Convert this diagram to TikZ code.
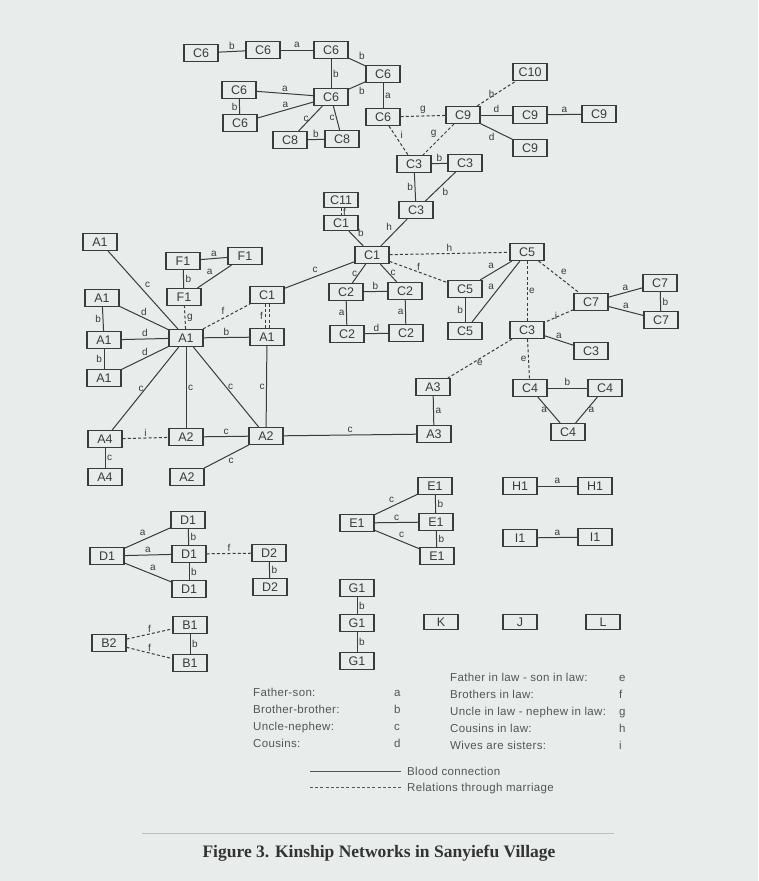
\documentclass[tikz,border=0pt]{standalone}
\usepackage{fontspec}
\setmainfont{Liberation Serif}
\setsansfont{Liberation Sans}
\definecolor{paper}{RGB}{232,236,234}
\definecolor{ink}{RGB}{58,60,60}
\definecolor{legink}{RGB}{85,87,87}
\tikzset{
  box/.style={draw=ink, line width=1.1pt, minimum width=34pt, minimum height=17pt, inner sep=1pt,
    font=\sffamily\fontsize{12.5}{12.5}\selectfont, text=ink},
  blood/.style={draw=ink, line width=1pt},
  marr/.style={draw=ink, line width=1pt, dash pattern=on 3pt off 2.2pt},
  lab/.style={font=\sffamily\fontsize{10}{10}\selectfont, text=ink, inner sep=1.5pt},
  legtxt/.style={font=\sffamily\fontsize{11.5}{11.5}\selectfont\addfontfeature{LetterSpace=3}, text=legink, anchor=base west, inner sep=0pt, yshift=-4pt},
}
\begin{document}
\begin{tikzpicture}[x=1pt,y=-1pt]
\path[fill=paper] (0,0) rectangle (758,881);
\useasboundingbox (0,0) rectangle (758,881);

% ---------- top C cluster ----------
\node[box] (c6a) at (201,53) {C6};
\node[box] (c6b) at (263,50) {C6};
\node[box] (c6c) at (331,50) {C6};
\node[box] (c6d) at (383,74) {C6};
\node[box] (c6e) at (331,97) {C6};
\node[box] (c6f) at (239,90) {C6};
\node[box] (c6g) at (240,123) {C6};
\node[box] (c8a) at (290,140) {C8};
\node[box] (c8b) at (342,139) {C8};
\node[box] (c6h) at (383,117) {C6};
\node[box] (c10) at (530,72) {C10};
\node[box] (c9) at (463,115) {C9};
\node[box] (c9b) at (530,115) {C9};
\node[box] (c9c) at (599,114) {C9};
\node[box] (c9d) at (530,148) {C9};
\node[box] (c3a) at (414,164) {C3};
\node[box] (c3b) at (465,163) {C3};
\node[box] (c3c) at (416,210) {C3};
\node[box, minimum height=15pt] (c11) at (341,200) {C11};
\node[box, minimum height=15pt] (c1s) at (341,223) {C1};

\draw[blood] (c6a) -- node[lab,above]{b} (c6b);
\draw[blood] (c6b) -- node[lab,above]{a} (c6c);
\draw[blood] (c6c) -- node[lab,above right]{b} (c6d);
\draw[blood] (c6c) -- node[lab,right]{b} (c6e);
\draw[blood] (c6e) -- node[lab,below right]{b} (c6d);
\draw[blood] (c6f) -- node[lab,above]{a} (c6e);
\draw[blood] (c6g) -- node[lab,above]{a} (c6e);
\draw[blood] (c6f) -- node[lab,left]{b} (c6g);
\draw[blood] (c6e) -- node[lab,left]{c} (c8a);
\draw[blood] (c6e) -- node[lab,left]{c} (c8b);
\draw[blood] (c8a) -- node[lab,above]{b} (c8b);
\draw[blood] (c6d) -- node[lab,right]{a} (c6h);
\draw[marr] (c6h) -- node[lab,above]{g} (c9);
\draw[marr] (c6h) -- node[lab,above right]{i} (c3a);
\draw[marr] (c9) -- node[lab,above left]{g} (c3a);
\draw[marr] (c9) -- node[lab,left]{h} (c10);
\draw[blood] (c9) -- node[lab,above]{d} (c9b);
\draw[blood] (c9b) -- node[lab,above]{a} (c9c);
\draw[blood] (c9) -- node[lab,below left]{d} (c9d);
\draw[blood] (c3a) -- node[lab,above]{b} (c3b);
\draw[blood] (c3a) -- node[lab,left]{b} (c3c);
\draw[blood] (c3b) -- node[lab,below right]{b} (c3c);
\draw[marr] (c11) -- node[lab,right]{f} (c1s);

% ---------- middle C cluster ----------
\node[box] (c1m) at (372,255) {C1};
\node[box] (c1l) at (267,295) {C1};
\node[box] (c2a) at (346,292) {C2};
\node[box] (c2b) at (405,291) {C2};
\node[box] (c2c) at (347,334) {C2};
\node[box] (c2d) at (406,333) {C2};
\node[box] (c5m) at (527,252) {C5};
\node[box] (c5a) at (465,289) {C5};
\node[box] (c5b) at (465,331) {C5};
\node[box] (c7) at (591,302) {C7};
\node[box] (c7a) at (660,283) {C7};
\node[box] (c7b) at (661,320) {C7};
\node[box] (c3m) at (527,330) {C3};
\node[box] (c3r) at (591,351) {C3};
\node[box] (c4a) at (530,388) {C4};
\node[box] (c4b) at (605,388) {C4};
\node[box] (c4c) at (568,432) {C4};
\node[box] (a3a) at (433,387) {A3};
\node[box] (a3b) at (434,434) {A3};

\draw[blood] (c3c) -- node[lab,above left]{h} (c1m);
\draw[blood] (c1s) -- node[lab,above right]{b} (c1m);
\draw[blood] (c1m) -- node[lab,above left]{c} (c1l);
\draw[blood] (c1m) -- node[lab,left]{c} (c2a);
\draw[blood] (c1m) -- node[lab,right]{c} (c2b);
\draw[blood] (c2a) -- node[lab,above]{b} (c2b);
\draw[blood] (c2a) -- node[lab,left]{a} (c2c);
\draw[blood] (c2b) -- node[lab,left]{a} (c2d);
\draw[blood] (c2c) -- node[lab,above]{d} (c2d);
\draw[marr] (c1m) -- node[lab,above]{h} (c5m);
\draw[marr] (c1m) -- node[lab,above]{f} (c5a);
\draw[blood] (c5m) -- node[lab,above left]{a} (c5a);
\draw[blood] (c5m) -- node[lab,above left]{a} (c5b);
\draw[blood] (c5a) -- node[lab,left]{b} (c5b);
\draw[marr] (c5m) -- node[lab,above right]{e} (c7);
\draw[marr] (c5m) -- node[lab,right]{e} (c3m);
\draw[marr] (c7) -- node[lab,left]{i} (c3m);
\draw[blood] (c7) -- node[lab,above]{a} (c7a);
\draw[blood] (c7) -- node[lab,above]{a} (c7b);
\draw[blood] (c7a) -- node[lab,right]{b} (c7b);
\draw[blood] (c3m) -- node[lab,above]{a} (c3r);
\draw[marr] (c3m) -- node[lab,below]{e} (a3a);
\draw[marr] (c3m) -- node[lab,left]{e} (c4a);
\draw[blood] (c4a) -- node[lab,above]{b} (c4b);
\draw[blood] (c4a) -- node[lab,left]{a} (c4c);
\draw[blood] (c4b) -- node[lab,right]{a} (c4c);
\draw[blood] (a3a) -- node[lab,right]{a} (a3b);

% ---------- A / F cluster ----------
\node[box] (a1t) at (100,242) {A1};
\node[box] (f1a) at (183,261) {F1};
\node[box] (f1b) at (245,256) {F1};
\node[box] (f1c) at (184,297) {F1};
\node[box] (a1l2) at (102,298) {A1};
\node[box] (a1l3) at (104,340) {A1};
\node[box] (a1l4) at (104,378) {A1};
\node[box] (a1c) at (186,338) {A1};
\node[box] (a1r) at (267,337) {A1};
\node[box] (a4a) at (105,439) {A4};
\node[box] (a2a) at (186,437) {A2};
\node[box] (a2b) at (266,436) {A2};
\node[box] (a4b) at (105,477) {A4};
\node[box] (a2c) at (187,477) {A2};

\draw[blood] (a1t) -- node[lab,above right]{c} (a1c);
\draw[blood] (a1l2) -- node[lab,above]{d} (a1c);
\draw[blood] (a1l2) -- node[lab,left]{b} (a1l3);
\draw[blood] (a1l3) -- node[lab,above]{d} (a1c);
\draw[blood] (a1l3) -- node[lab,left]{b} (a1l4);
\draw[blood] (a1l4) -- node[lab,above]{d} (a1c);
\draw[blood] (a1c) -- node[lab,left]{c} (a4a);
\draw[blood] (a1c) -- node[lab,right]{c} (a2a);
\draw[blood] (a1c) -- node[lab,right]{c} (a2b);
\draw[blood] (a1r) -- node[lab,left]{c} (a2b);
\draw[blood] (a1c) -- node[lab,above]{b} (a1r);
\draw[marr] (a1c) -- node[lab,right]{g} (f1c);
\draw[marr] (a1c) -- node[lab,above left]{f} (c1l);
\draw[marr] ([xshift=-2pt]c1l.south) -- node[lab,left]{f} ([xshift=-2pt]a1r.north);
\draw[marr] ([xshift=2pt]c1l.south) -- ([xshift=2pt]a1r.north);
\draw[blood] (f1c) -- node[lab,right]{b} (f1a);
\draw[blood] (f1a) -- node[lab,above]{a} (f1b);
\draw[blood] (f1b) -- node[lab,above left]{a} (f1c);
\draw[marr] (a4a) -- node[lab,above]{i} (a2a);
\draw[blood] (a4a) -- node[lab,right]{c} (a4b);
\draw[blood] (a2a) -- node[lab,above]{c} (a2b);
\draw[blood] (a2c) -- node[lab,below right]{c} (a2b);
\draw[blood] (a2b) -- node[lab,above]{c} (a3b);

% ---------- bottom groups ----------
\node[box] (e1l) at (357,523) {E1};
\node[box] (e1a) at (435,486) {E1};
\node[box] (e1b) at (436,522) {E1};
\node[box] (e1c) at (437,556) {E1};
\node[box] (h1a) at (520,486) {H1};
\node[box] (h1b) at (595,486) {H1};
\node[box] (i1a) at (520,538) {I1};
\node[box] (i1b) at (595,537) {I1};
\node[box] (g1a) at (357,588) {G1};
\node[box] (g1b) at (357,623) {G1};
\node[box] (g1c) at (357,661) {G1};
\node[box] (d1a) at (188,520) {D1};
\node[box] (d1l) at (107,556) {D1};
\node[box] (d1b) at (189,554) {D1};
\node[box] (d1c) at (189,589) {D1};
\node[box] (d2a) at (269,553) {D2};
\node[box] (d2b) at (270,587) {D2};
\node[box] (b1a) at (190,625) {B1};
\node[box] (b2) at (109,643) {B2};
\node[box] (b1b) at (190,663) {B1};
\node[box, minimum height=15pt] (kk) at (441,622) {K};
\node[box, minimum height=15pt] (jj) at (520,622) {J};
\node[box, minimum height=15pt] (ll) at (603,622) {L};

\draw[blood] (e1l) -- node[lab,above left]{c} (e1a);
\draw[blood] (e1l) -- node[lab,above]{c} (e1b);
\draw[blood] (e1l) -- node[lab,above right]{c} (e1c);
\draw[blood] (e1a) -- node[lab,right]{b} (e1b);
\draw[blood] (e1b) -- node[lab,right]{b} (e1c);
\draw[blood] (h1a) -- node[lab,above]{a} (h1b);
\draw[blood] (i1a) -- node[lab,above]{a} (i1b);
\draw[blood] (g1a) -- node[lab,right]{b} (g1b);
\draw[blood] (g1b) -- node[lab,right]{b} (g1c);
\draw[blood] (d1l) -- node[lab,above left]{a} (d1a);
\draw[blood] (d1l) -- node[lab,above]{a} (d1b);
\draw[blood] (d1l) -- node[lab,above right]{a} (d1c);
\draw[blood] (d1a) -- node[lab,right]{b} (d1b);
\draw[blood] (d1b) -- node[lab,right]{b} (d1c);
\draw[marr] (d1b) -- node[lab,above]{f} (d2a);
\draw[blood] (d2a) -- node[lab,right]{b} (d2b);
\draw[marr] (b2) -- node[lab,above]{f} (b1a);
\draw[marr] (b2) -- node[lab,above]{f} (b1b);
\draw[blood] (b1a) -- node[lab,right]{b} (b1b);

% ---------- legend ----------
\node[legtxt] (lg1) at (253,692) {Father-son:};
\node[legtxt] (lg2) at (253,709) {Brother-brother:};
\node[legtxt] (lg3) at (253,726) {Uncle-nephew:};
\node[legtxt] (lg4) at (253,743) {Cousins:};
\node[legtxt] (la) at (394,692) {a};
\node[legtxt] (lb) at (394,709) {b};
\node[legtxt] (lc) at (394,726) {c};
\node[legtxt] (ld) at (394,743) {d};
\node[legtxt] (rg1) at (450,677) {Father in law - son in law:};
\node[legtxt] (rg2) at (450,694) {Brothers in law:};
\node[legtxt] (rg3) at (450,711) {Uncle in law - nephew in law:};
\node[legtxt] (rg4) at (450,728) {Cousins in law:};
\node[legtxt] (rg5) at (450,745) {Wives are sisters:};
\node[legtxt] (le) at (619,677) {e};
\node[legtxt] (lf) at (619,694) {f};
\node[legtxt] (lgg) at (619,711) {g};
\node[legtxt] (lh) at (619,728) {h};
\node[legtxt] (li) at (619,745) {i};
\coordinate (ls1) at (310,771);
\coordinate (ls2) at (401,771);
\coordinate (lm1) at (310,787);
\coordinate (lm2) at (401,787);
\draw[blood, draw=legink] (ls1) -- (ls2);
\draw[marr, draw=legink] (lm1) -- (lm2);
\node[legtxt] (lbl) at (407,771) {Blood connection};
\node[legtxt] (lrl) at (407,787) {Relations through marriage};

% ---------- caption ----------
\coordinate (r1) at (142,833);
\coordinate (r2) at (614,833);
\draw[line width=0.8pt, draw=black!25] (r1) -- (r2);
\node[font=\bfseries\fontsize{17.5}{17.5}\selectfont, text=black!80, inner sep=0pt] (cap) at (379,853) {Figure 3. Kinship Networks in Sanyiefu Village};
\end{tikzpicture}
\end{document}
